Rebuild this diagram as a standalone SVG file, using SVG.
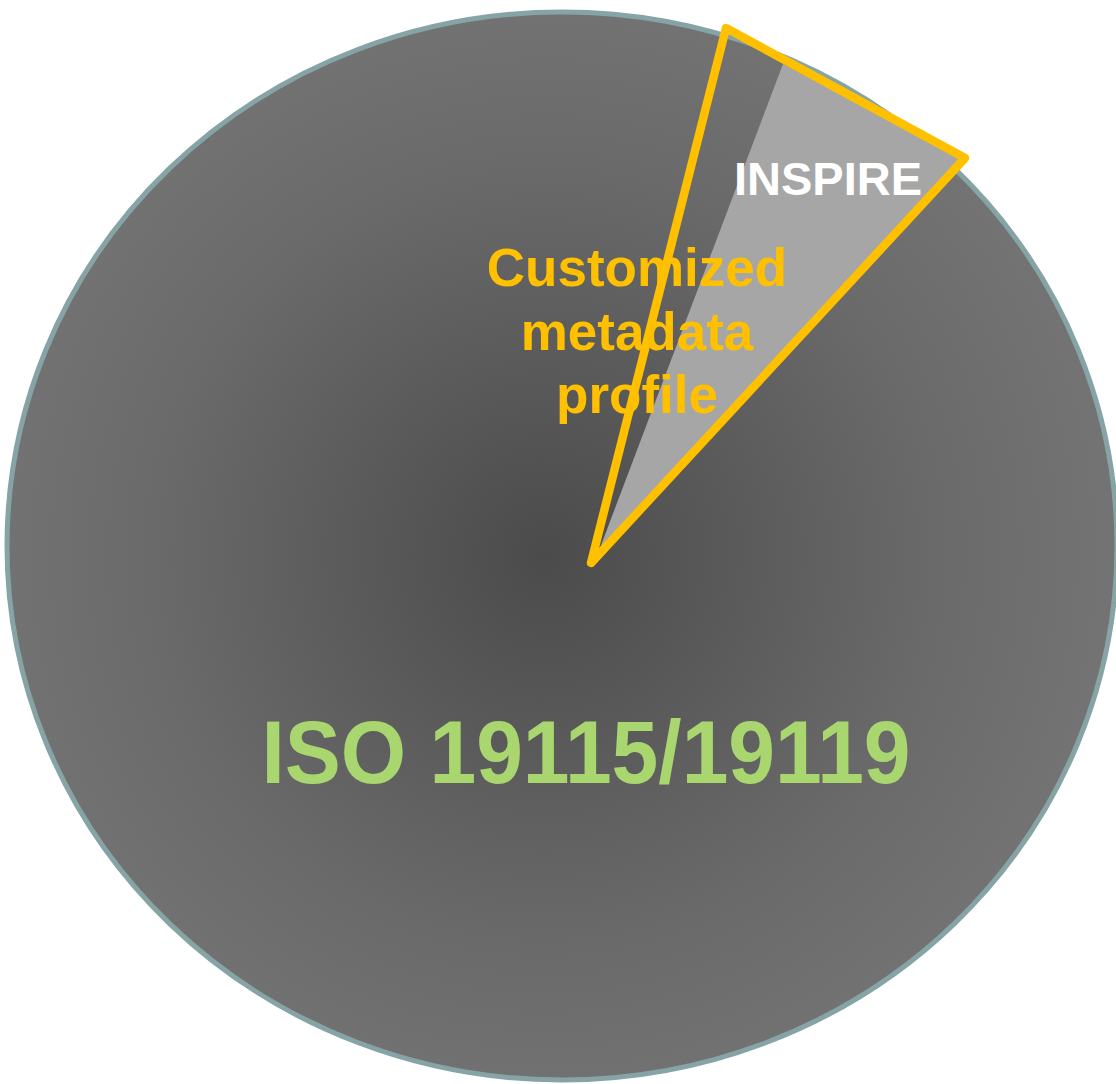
<svg xmlns="http://www.w3.org/2000/svg" width="1116" height="1084" viewBox="0 0 1116 1084">
<style>
.t{font-family:"Liberation Sans",Arial,sans-serif;font-weight:bold;text-anchor:middle}
</style>
<defs>
<radialGradient id="g" cx="545" cy="555" r="560" gradientUnits="userSpaceOnUse">
<stop offset="0" stop-color="#4b4b4b"/>
<stop offset="0.7" stop-color="#6a6a6a"/>
<stop offset="1" stop-color="#737373"/>
</radialGradient>
</defs>
<g id="base">
<ellipse cx="562" cy="546" rx="555" ry="534" fill="url(#g)" stroke="#86a3a6" stroke-width="5"/>
</g>
<g id="inspire">
<path d="M600,548 L783,64 L952,153 Q958,158 962,166 Z" fill="#a6a6a6"/>
<text class="t" x="828" y="195" font-size="47" fill="#ffffff">INSPIRE</text>
</g>
<g id="profile">
<polygon points="591,563 726,28 965,158" fill="none" stroke="#ffc000" stroke-width="8.5" stroke-linejoin="round"/>
<text class="t" font-size="53" fill="#ffc000"><tspan x="637" y="286">Customized</tspan><tspan x="637" y="350">metadata</tspan><tspan x="637" y="413">profile</tspan></text>
</g>
<g id="iso">
<text class="t" x="586" y="783" font-size="84" fill="#a9d66f" transform="translate(586 783) scale(1 1.05) translate(-586 -783)">ISO 19115/19119</text>
</g>
<g id="connectors"/>
</svg>
